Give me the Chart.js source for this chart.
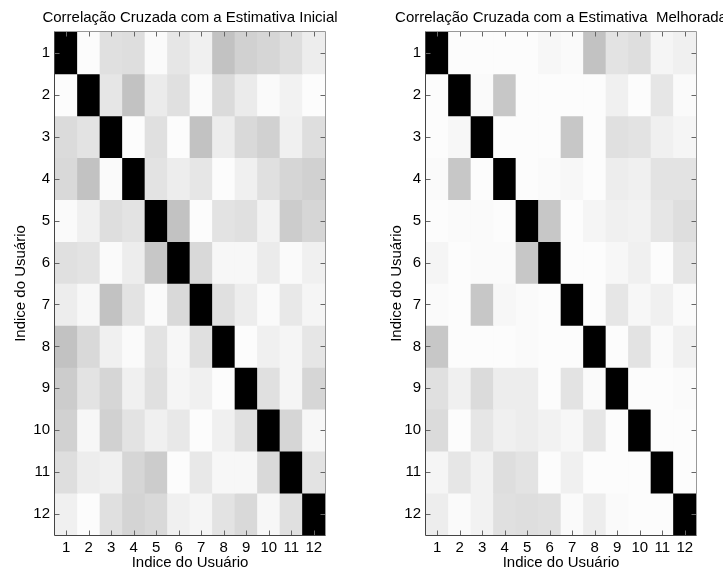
<!DOCTYPE html>
<html>
<head>
<meta charset="utf-8">
<script src="https://cdn.jsdelivr.net/npm/chart.js@4/dist/chart.umd.min.js"></script>
<style>
  html, body { margin: 0; padding: 0; background: #fff; }
  body { width: 723px; height: 575px; position: relative; overflow: hidden; }
  .panel { position: absolute; top: 0; }
</style>
</head>
<body>
<div class="panel" style="left:-20px"><canvas id="initial" width="420" height="575"></canvas></div>
<div class="panel" style="left:360px"><canvas id="improved" width="402" height="575"></canvas></div>
<script>
"use strict";

// índices dos usuários (linhas e colunas)
const USERS = [1, 2, 3, 4, 5, 6, 7, 8, 9, 10, 11, 12];

// correlação cruzada (0 = branco, 1 = preto)
const CORR_INITIAL = [
  [1.00, 0.01, 0.12, 0.13, 0.02, 0.10, 0.06, 0.24, 0.18, 0.16, 0.13, 0.07],
  [0.01, 1.00, 0.10, 0.24, 0.08, 0.12, 0.02, 0.14, 0.08, 0.02, 0.05, 0.01],
  [0.14, 0.11, 1.00, 0.01, 0.12, 0.01, 0.24, 0.07, 0.15, 0.18, 0.06, 0.13],
  [0.15, 0.24, 0.02, 1.00, 0.11, 0.07, 0.10, 0.01, 0.06, 0.12, 0.16, 0.18],
  [0.02, 0.06, 0.13, 0.11, 1.00, 0.24, 0.01, 0.11, 0.12, 0.05, 0.20, 0.16],
  [0.12, 0.11, 0.02, 0.07, 0.22, 1.00, 0.15, 0.03, 0.03, 0.08, 0.02, 0.06],
  [0.07, 0.03, 0.24, 0.11, 0.02, 0.15, 1.00, 0.12, 0.07, 0.02, 0.09, 0.04],
  [0.24, 0.15, 0.06, 0.02, 0.11, 0.03, 0.12, 1.00, 0.01, 0.06, 0.04, 0.10],
  [0.20, 0.11, 0.16, 0.06, 0.12, 0.04, 0.06, 0.01, 1.00, 0.12, 0.04, 0.16],
  [0.18, 0.03, 0.18, 0.11, 0.06, 0.09, 0.01, 0.06, 0.12, 1.00, 0.16, 0.03],
  [0.13, 0.07, 0.06, 0.16, 0.20, 0.01, 0.09, 0.03, 0.03, 0.15, 1.00, 0.11],
  [0.06, 0.01, 0.12, 0.17, 0.15, 0.06, 0.04, 0.11, 0.15, 0.03, 0.12, 1.00],
];

const CORR_IMPROVED = [
  [1.00, 0.01, 0.01, 0.01, 0.01, 0.03, 0.02, 0.24, 0.11, 0.13, 0.04, 0.06],
  [0.01, 1.00, 0.02, 0.22, 0.01, 0.01, 0.01, 0.01, 0.06, 0.01, 0.10, 0.02],
  [0.01, 0.03, 1.00, 0.01, 0.01, 0.01, 0.22, 0.01, 0.12, 0.11, 0.06, 0.04],
  [0.02, 0.22, 0.01, 1.00, 0.01, 0.02, 0.03, 0.01, 0.07, 0.06, 0.11, 0.11],
  [0.01, 0.02, 0.02, 0.01, 1.00, 0.22, 0.01, 0.04, 0.06, 0.05, 0.10, 0.13],
  [0.04, 0.01, 0.02, 0.02, 0.22, 1.00, 0.01, 0.01, 0.03, 0.06, 0.01, 0.10],
  [0.02, 0.01, 0.22, 0.03, 0.02, 0.01, 1.00, 0.01, 0.10, 0.03, 0.06, 0.02],
  [0.22, 0.01, 0.01, 0.01, 0.02, 0.01, 0.01, 1.00, 0.01, 0.11, 0.02, 0.06],
  [0.12, 0.06, 0.14, 0.07, 0.07, 0.01, 0.11, 0.02, 1.00, 0.01, 0.01, 0.02],
  [0.14, 0.01, 0.10, 0.06, 0.07, 0.05, 0.03, 0.10, 0.01, 1.00, 0.01, 0.01],
  [0.04, 0.10, 0.05, 0.13, 0.11, 0.01, 0.06, 0.01, 0.01, 0.01, 1.00, 0.01],
  [0.07, 0.02, 0.05, 0.12, 0.13, 0.12, 0.02, 0.07, 0.02, 0.01, 0.01, 1.00],
];

const TITLE_INITIAL = "Correlação Cruzada com a Estimativa Inicial";
const TITLE_IMPROVED = "Correlação Cruzada com a Estimativa  Melhorada";
const AXIS_LABEL = "Indice do Usuário";

const FONT = "'Liberation Sans', Arial, Helvetica, sans-serif";
const FONT_SIZE = 15;

function gray(v) {
  const g = Math.round(255 * (1 - v));
  return `rgb(${g},${g},${g})`;
}

// caixa estilo MATLAB + marcas de escala para dentro
const boxPlugin = {
  id: "matlabBox",
  afterDraw(chart) {
    const { ctx, chartArea: a, scales: { x, y } } = chart;
    const L = Math.round(a.left) - 0.5, R = Math.round(a.right) + 0.5;
    const T = Math.round(a.top) - 0.5, B = Math.round(a.bottom) + 0.5;
    ctx.save();
    ctx.lineWidth = 1;
    ctx.strokeStyle = "#666";
    ctx.beginPath();
    x.ticks.forEach((t, i) => {
      const px = Math.round(x.getPixelForTick(i)) + 0.5;
      ctx.moveTo(px, B); ctx.lineTo(px, B - 5);
      ctx.moveTo(px, T); ctx.lineTo(px, T + 5);
    });
    y.ticks.forEach((t, i) => {
      const py = Math.round(y.getPixelForTick(i)) + 0.5;
      ctx.moveTo(L, py); ctx.lineTo(L + 5, py);
      ctx.moveTo(R, py); ctx.lineTo(R - 5, py);
    });
    ctx.stroke();
    ctx.strokeStyle = "#999";
    ctx.beginPath();
    ctx.moveTo(L, T); ctx.lineTo(R, T); ctx.lineTo(R, B);
    ctx.stroke();
    ctx.strokeStyle = "#444";
    ctx.beginPath();
    ctx.moveTo(L, T); ctx.lineTo(L, B); ctx.lineTo(R, B);
    ctx.stroke();
    ctx.restore();
  },
};

function renderMatrix(id, title, matrix, yAxisWidth, yTitlePad) {
  const datasets = matrix.map((row, r) => ({
    label: `usuário ${USERS[r]}`,
    data: USERS.map(() => [USERS[r] - 0.5, USERS[r] + 0.5]),
    backgroundColor: row.map(gray),
    borderWidth: 0,
    grouped: false,
    barPercentage: 1,
    categoryPercentage: 1,
  }));

  new Chart(document.getElementById(id), {
    type: "bar",
    data: { labels: USERS.map(String), datasets },
    options: {
      responsive: false,
      animation: false,
      devicePixelRatio: 1,
      layout: { padding: 0 },
      plugins: {
        legend: { display: false },
        tooltip: { enabled: false },
        title: {
          display: true,
          text: title,
          color: "#000",
          font: { family: FONT, size: FONT_SIZE, weight: "normal", lineHeight: 1.2 },
          padding: { top: 9, bottom: 5 },
        },
      },
      scales: {
        x: {
          type: "category",
          offset: true,
          grid: { display: false, drawTicks: false },
          border: { display: false },
          ticks: {
            color: "#000", padding: 4, autoSkip: false, maxRotation: 0,
            font: { family: FONT, size: FONT_SIZE },
          },
          title: {
            display: true, text: AXIS_LABEL, color: "#000",
            font: { family: FONT, size: FONT_SIZE },
            padding: { top: 0, bottom: 3 },
          },
          afterFit(scale) { scale.height = 40; },
        },
        y: {
          type: "linear",
          reverse: true,
          min: 0.5,
          max: 12.5,
          grid: { display: false, drawTicks: false },
          border: { display: false },
          ticks: {
            color: "#000", padding: 5,
            font: { family: FONT, size: FONT_SIZE },
          },
          afterBuildTicks(scale) { scale.ticks = USERS.map(v => ({ value: v })); },
          title: {
            display: true, text: AXIS_LABEL, color: "#000",
            font: { family: FONT, size: FONT_SIZE },
            padding: { top: yTitlePad, bottom: 0 },
          },
          afterFit(scale) { scale.width = yAxisWidth; },
        },
        // eixo vazio à direita: mantém o título centrado sobre a matriz
        spacer: {
          type: "linear",
          position: "right",
          grid: { display: false, drawTicks: false },
          border: { display: false },
          ticks: { display: false },
          afterFit(scale) { scale.width = yAxisWidth; },
        },
      },
    },
    plugins: [boxPlugin],
  });
}

renderMatrix("initial", TITLE_INITIAL, CORR_INITIAL, 75, 32);
renderMatrix("improved", TITLE_IMPROVED, CORR_IMPROVED, 66, 28);
</script>
</body>
</html>
